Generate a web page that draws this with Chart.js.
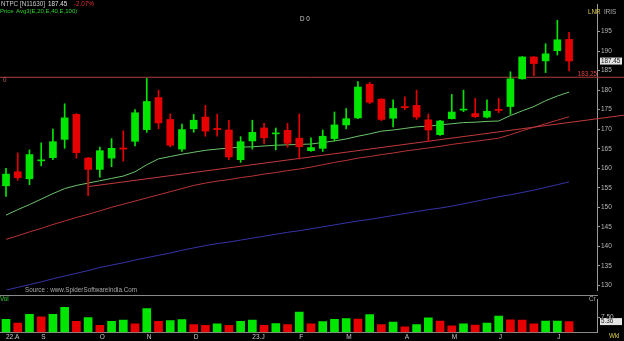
<!DOCTYPE html>
<html>
<head>
<meta charset="utf-8">
<script src="https://cdn.jsdelivr.net/npm/chart.js@4.4.1/dist/chart.umd.min.js"></script>
<style>
  html, body { margin: 0; padding: 0; background: #000; }
  #wrap { position: relative; width: 624px; height: 341px; overflow: hidden; background: #000; }
  #price { position: absolute; left: 0; top: 0; }
  #vol { position: absolute; left: 0; top: 295px; }
</style>
</head>
<body>
<div id="wrap">
  <canvas id="price" width="624" height="295"></canvas>
  <canvas id="vol" width="624" height="46"></canvas>
</div>
<script>
// weekly NTPC candles
const opens  = [155.5,159.1,157.3,161.9,162.7,167.4,173.8,162.6,159.7,162.6,165.2,166.9,169.9,178.1,172.5,164.9,170.1,173.1,170.2,169.8,162.2,167.0,170.3,168.8,169.7,167.7,164.5,165.1,167.6,171.1,172.9,181.5,177.7,172.8,175.8,176.1,172.4,168.6,172.7,174.9,174.0,173.1,175.1,175.8,182.9,188.5,187.5,190.1,193.0];
const highs  = [160.0,163.9,164.7,166.5,170.0,176.5,174.0,162.8,165.4,167.6,169.6,175.0,183.0,180.0,173.9,171.3,173.8,176.1,173.9,172.3,168.1,172.3,171.5,170.3,171.5,173.9,167.8,169.8,174.4,175.3,182.2,182.0,177.8,177.5,178.3,180.0,173.9,172.3,178.9,180.0,177.9,177.5,177.9,184.7,188.6,188.6,191.9,197.9,194.8];
const lows   = [152.8,156.9,155.8,160.6,162.2,165.1,162.6,153.0,157.7,160.4,161.8,165.7,169.2,170.1,165.5,164.3,169.2,168.2,168.2,162.2,161.5,164.9,166.2,164.7,165.4,162.4,164.3,164.3,167.0,170.1,172.7,176.5,172.2,170.6,175.0,172.5,166.8,168.4,172.6,174.5,173.0,172.9,174.2,173.8,182.8,183.7,184.5,189.0,184.9];
const closes = [158.5,157.6,163.5,162.1,166.8,172.9,164.0,159.7,164.5,165.1,164.9,174.2,177.1,171.6,165.9,169.9,172.3,169.5,169.9,162.9,166.8,169.2,167.8,169.0,166.4,165.5,165.3,168.2,171.1,172.7,180.8,176.9,172.5,175.3,175.5,173.1,169.8,172.1,174.4,175.1,173.2,174.6,174.8,182.9,188.5,186.8,189.3,192.9,187.45];

// averages E20, E40, E100
const ema20  = [148.0,149.4,150.7,152.1,153.5,154.8,155.6,156.2,156.8,157.4,158.0,159.1,160.9,162.4,163.0,163.6,164.1,164.6,164.9,165.2,165.4,165.5,165.7,165.9,166.0,166.1,166.2,166.6,167.0,167.5,168.2,168.8,169.5,169.8,170.2,170.6,170.8,171.1,171.4,171.7,171.8,172.0,172.1,173.5,174.7,175.8,177.3,178.5,179.5];
const ema40  = [141.8,142.7,143.7,144.6,145.6,146.5,147.4,148.2,149.1,150.0,150.8,151.6,152.4,153.2,154.0,154.8,155.6,156.2,156.7,157.1,157.6,158.0,158.5,158.9,159.4,159.8,160.3,160.9,161.5,162.0,162.6,163.0,163.5,163.9,164.4,164.8,165.2,165.6,166.1,166.5,166.9,167.3,167.7,168.6,169.6,170.5,171.4,172.3,173.2];
const ema100 = [128.8,129.5,130.2,130.9,131.7,132.4,133.1,133.8,134.6,135.2,135.8,136.5,137.1,137.7,138.3,139.0,139.6,140.2,140.7,141.1,141.6,142.1,142.6,143.1,143.6,144.0,144.5,145.0,145.5,146.0,146.5,146.9,147.4,147.9,148.4,148.9,149.4,149.8,150.3,150.9,151.5,152.1,152.7,153.2,153.8,154.4,155.1,155.8,156.5];

// volume (Cr) and bar colour flag
const volumes = [6.5,4.65,9.0,7.7,9.0,12.5,5.5,7.4,3.5,5.5,6.1,4.2,11.9,5.5,5.8,6.4,3.8,3.5,4.2,3.5,5.5,6.1,3.5,4.35,3.8,10.1,4.2,5.35,6.5,6.8,6.65,8.8,3.9,5.1,2.75,3.9,7.25,5.65,3.2,4.2,3.6,4.65,8.1,6.2,6.1,4.2,5.65,5.65,5.36];
const volUp   = [1,0,1,0,1,1,0,1,0,1,1,0,1,0,1,1,0,0,1,0,1,1,0,1,0,1,0,1,1,1,0,1,0,1,0,1,1,0,0,1,0,1,1,0,0,0,1,1,0];

// trend line + resistance level
const trendX = [7, 52.7];
const trendY = [155.3, 173.6];
const levelX = [-0.6, 52.7];
const levelPrice = 183.3;

const priceTicks = [130,135,140,145,150,155,160,165,170,175,180,185,190,195];
const volTicks = [7.5];
const monthIdx = [0,3,8,12,16,21,25,29,34,38,42,47];
const monthLabels = ['22.A','S','O','N','D','23.J','F','M','A','M','J','J'];

const GREEN = '#00e600';
const RED = '#e60000';
const FONT = 'Liberation Sans, Arial, sans-serif';

const idx = closes.map((_, i) => i);
const candleColor = idx.map(i => closes[i] >= opens[i] ? GREEN : RED);
const xMin = -0.5115, xMax = 50.38;

function txt(ctx, s, x, y, color, size, align) {
  ctx.fillStyle = color;
  ctx.font = (size || 6.5) + 'px ' + FONT;
  ctx.textAlign = align || 'left';
  ctx.textBaseline = 'middle';
  ctx.fillText(s, x, y);
}

const priceText = {
  id: 'priceText',
  afterDraw(chart) {
    const ctx = chart.ctx;
    const y = chart.scales.y;
    ctx.save();
    txt(ctx, 'NTPC [N11630]', 1, 4.5, '#c8c8c8', 6.3);
    txt(ctx, closes[closes.length - 1].toFixed(2), 48, 4.5, '#e0e0e0', 6.3);
    txt(ctx, '-2.07%', 74, 4.5, '#e03030', 6.3);
    txt(ctx, 'Price', 0, 11.5, '#2fd02f', 6);
    txt(ctx, 'Avg3(E,20,E,40,E,100)', 16, 11.5, '#2fd02f', 6);
    txt(ctx, 'D 0', 300, 19.5, '#d0d0d0', 6.3);
    txt(ctx, '0', 3, 80, '#c06060', 6.3);
    txt(ctx, 'LNR', 588, 12, '#d8c848', 6.3);
    txt(ctx, 'IRIS', 604, 12, '#b0b0b0', 6.3);
    txt(ctx, 'Source : www.SpiderSoftwareIndia.Com', 25, 290, '#a8a8a8', 6.3);
    // level label
    const ly = y.getPixelForValue(levelPrice);
    txt(ctx, '183.25', 597, ly - 3.5, '#e04040', 6.3, 'right');
    // last price box
    const last = closes[closes.length - 1];
    const py = y.getPixelForValue(last);
    ctx.fillStyle = '#e4e4e4';
    ctx.fillRect(600, py - 3.5, 22, 7);
    txt(ctx, last.toFixed(2), 601, py, '#202020', 6.3);
    ctx.restore();
  }
};

new Chart(document.getElementById('price'), {
  type: 'bar',
  data: {
    datasets: [
      { type: 'bar', data: idx.map(i => ({ x: i, y: [opens[i], closes[i]] })), backgroundColor: candleColor,
        barThickness: 7, minBarLength: 1, grouped: false, order: 0 },
      { type: 'bar', data: idx.map(i => ({ x: i, y: [lows[i], highs[i]] })), backgroundColor: candleColor,
        barThickness: 1, grouped: false, order: 1 },
      { type: 'line', data: idx.map(i => ({ x: i, y: ema20[i] })), borderColor: '#6cc46c', borderWidth: 1,
        pointRadius: 0, order: 2 },
      { type: 'line', data: idx.map(i => ({ x: i, y: ema40[i] })), borderColor: '#b83434', borderWidth: 1,
        pointRadius: 0, order: 3 },
      { type: 'line', data: idx.map(i => ({ x: i, y: ema100[i] })), borderColor: '#3434a8', borderWidth: 1,
        pointRadius: 0, order: 4 },
      { type: 'line', data: trendX.map((x, k) => ({ x: x, y: trendY[k] })), borderColor: '#c03a3a', borderWidth: 1,
        pointRadius: 0, clip: false, order: 5 },
      { type: 'line', data: levelX.map(x => ({ x: x, y: levelPrice })), borderColor: '#b03c3c', borderWidth: 1,
        pointRadius: 0, clip: false, order: 6 }
    ]
  },
  options: {
    responsive: false,
    animation: false,
    events: [],
    layout: { padding: 0 },
    plugins: { legend: { display: false }, tooltip: { enabled: false } },
    scales: {
      x: { type: 'linear', min: xMin, max: xMax, offset: false, display: false },
      y: {
        position: 'right', min: 128.8, max: 201.83,
        afterFit: s => { s.width = 27; },
        afterBuildTicks: s => { s.ticks = priceTicks.map(v => ({ value: v })); },
        grid: { drawOnChartArea: false, drawTicks: true, tickLength: 3, color: '#9a9a9a' },
        border: { display: true, color: '#9a9a9a' },
        ticks: { color: '#b8b8b8', padding: 1, font: { family: FONT, size: 6.5 }, callback: v => v }
      }
    }
  },
  plugins: [priceText]
});

const volText = {
  id: 'volText',
  afterDraw(chart) {
    const ctx = chart.ctx;
    const y = chart.scales.y;
    ctx.save();
    ctx.strokeStyle = '#8a8a8a';
    ctx.lineWidth = 1;
    ctx.beginPath();
    ctx.moveTo(0, 0.5);
    ctx.lineTo(598, 0.5);
    ctx.stroke();
    txt(ctx, 'Vol', 0, 4.5, '#2fd02f', 6.3);
    txt(ctx, 'Cr', 589, 4.5, '#b0b0b0', 6.3);
    const last = volumes[volumes.length - 1];
    const py = y.getPixelForValue(last);
    ctx.fillStyle = '#e4e4e4';
    ctx.fillRect(600, py - 3.5, 22, 7);
    txt(ctx, last.toFixed(2), 601, py, '#202020', 6.3);
    txt(ctx, 'Wkl', 609, 41.5, '#d8c848', 6.3);
    ctx.restore();
  }
};

new Chart(document.getElementById('vol'), {
  type: 'bar',
  data: {
    datasets: [
      { data: idx.map(i => ({ x: i, y: volumes[i] })), backgroundColor: volUp.map(u => u ? GREEN : RED),
        barThickness: 8, grouped: false }
    ]
  },
  options: {
    responsive: false,
    animation: false,
    events: [],
    layout: { padding: 0 },
    plugins: { legend: { display: false }, tooltip: { enabled: false } },
    scales: {
      x: {
        type: 'linear', min: xMin, max: xMax, offset: false,
        afterFit: s => { s.height = 8.7; },
        afterBuildTicks: s => { s.ticks = monthIdx.map(v => ({ value: v })); },
        grid: { display: false, drawTicks: false },
        border: { display: true, color: '#8a8a8a' },
        ticks: { autoSkip: false, maxRotation: 0, align: 'start', padding: 1, color: '#c8c8c8',
          font: { family: FONT, size: 6.5 }, callback: v => monthLabels[monthIdx.indexOf(v)] }
      },
      y: {
        position: 'right', min: 0, max: 16.2,
        afterFit: s => { s.width = 27; },
        afterBuildTicks: s => { s.ticks = volTicks.map(v => ({ value: v })); },
        grid: { drawOnChartArea: false, drawTicks: true, tickLength: 3, color: '#9a9a9a' },
        border: { display: true, color: '#9a9a9a' },
        ticks: { color: '#b8b8b8', padding: 1, font: { family: FONT, size: 6.5 }, callback: v => v.toFixed(2) }
      }
    }
  },
  plugins: [volText]
});
</script>
</body>
</html>
